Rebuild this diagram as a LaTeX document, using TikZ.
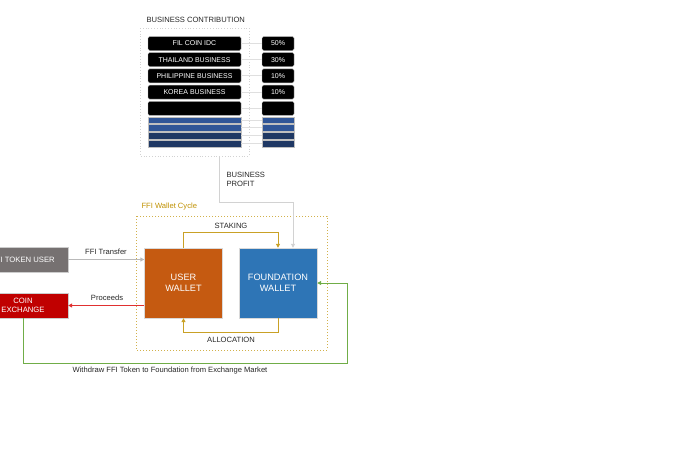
\documentclass[tikz,border=0pt]{standalone}
\usepackage{fontspec}
\setmainfont{Liberation Sans}
\usepackage{tikz}
\usetikzlibrary{positioning,calc,arrows.meta}

\definecolor{rowblue}{HTML}{2F5597}
\definecolor{rownavy}{HTML}{1F3864}
\definecolor{walletorange}{HTML}{C55A11}
\definecolor{walletblue}{HTML}{2E75B6}
\definecolor{cyclegold}{HTML}{BF9000}
\definecolor{usergray}{HTML}{767171}
\definecolor{exchred}{HTML}{C00000}
\definecolor{linered}{HTML}{E03030}
\definecolor{withdrawgreen}{HTML}{70AD47}

\tikzset{
    txt/.style={font=\fontsize{7.6}{9}\selectfont, text=black!85},
    rowbox/.style={draw=gray!60, fill=black, rounded corners=1.5, text=white,
        minimum height=14, inner sep=0, font=\fontsize{7}{8}\selectfont},
    strip/.style={draw=gray!50, minimum height=6.5, inner sep=0},
    wallet/.style={draw=gray!30, minimum width=78, minimum height=70, text=white,
        align=center, font=\fontsize{9.2}{11}\selectfont},
    sidebox/.style={draw=gray!40, minimum width=90, minimum height=25, text=white,
        align=center, inner sep=0, font=\fontsize{7.7}{9}\selectfont},
    link/.style={line width=1},
    tip/.style={link, -{Triangle[length=4,width=4]}}
}

\begin{document}
\begin{tikzpicture}[x=1pt,y=-1pt]
    \useasboundingbox (0,0) rectangle (700,466);

    % Business contribution
    \node[txt, anchor=west] (title) at (143,20) {BUSINESS CONTRIBUTION};
    \draw[gray!35, dotted, line width=0.8] (140,28) rectangle (249,156);
    \foreach \y/\name/\pct [count=\i] in {43.5/FIL COIN IDC/50\%, 59.7/THAILAND BUSINESS/30\%,
        75.9/PHILIPPINE BUSINESS/10\%, 92.1/KOREA BUSINESS/10\%, 108.3/{}/{}} {
        \node[rowbox, minimum width=93] (biz\i) at (194.5,\y) {\name};
        \node[rowbox, minimum width=32] (pct\i) at (278,\y) {\pct};
        \draw[gray!25, link] (biz\i.east) -- (pct\i.west);
    }
    \foreach \y/\col [count=\i] in {120/rowblue, 127.5/rowblue, 135.5/rownavy, 143.5/rownavy} {
        \node[strip, fill=\col, minimum width=93] (bar\i) at (194.5,\y) {};
        \node[strip, fill=\col, minimum width=32] (barpct\i) at (278,\y) {};
        \draw[gray!25, link] (bar\i.east) -- (barpct\i.west);
    }

    % FFI wallet cycle
    \draw[cyclegold!70, dotted, line width=1] (136,216) rectangle (327,350);
    \node[txt, text=cyclegold, anchor=west] (cycle) at (138,207) {FFI Wallet Cycle};
    \node[wallet, fill=walletorange] (user) at (183.5,283) {USER\\WALLET};
    \node[wallet, fill=walletblue] (found) at (278,283) {FOUNDATION\\WALLET};

    % Staking and allocation
    \draw[cyclegold!85, tip] (user.north) -- ++(0,-15) -| (found.north);
    \node[txt] (staking) at (231,226) {STAKING};
    \draw[cyclegold!85, tip] (found.south) -- ++(0,14) -| (user.south);
    \node[txt] (alloc) at (231,340) {ALLOCATION};

    % Business profit
    \coordinate (profit) at (219.5,156);
    \coordinate (bend) at (293,202);
    \draw[gray!35, tip] (profit) |- (bend) -- (bend |- found.north);
    \node[txt, anchor=north west, align=left] (profitlbl) at (223,169) {BUSINESS\\PROFIT};

    % Token user and exchange
    \node[sidebox, fill=usergray] (tokenuser) at (23,259.5) {FFI TOKEN USER};
    \node[sidebox, fill=exchred] (exchange) at (23,305.5) {COIN\\EXCHANGE};
    \draw[gray!55, tip] (tokenuser.east) -- (tokenuser.east -| user.west);
    \node[txt] (transfer) at (106,252) {FFI Transfer};
    \draw[linered, tip] (user.west |- exchange.east) -- (exchange.east);
    \node[txt] (proceeds) at (107,298) {Proceeds};

    % Withdraw
    \coordinate (wd) at (347,363);
    \draw[withdrawgreen, tip] (exchange.south) |- (wd) |- (found.east);
    \node[txt] (withdraw) at (170,371) {Withdraw FFI Token to Foundation from Exchange Market};
\end{tikzpicture}
\end{document}
